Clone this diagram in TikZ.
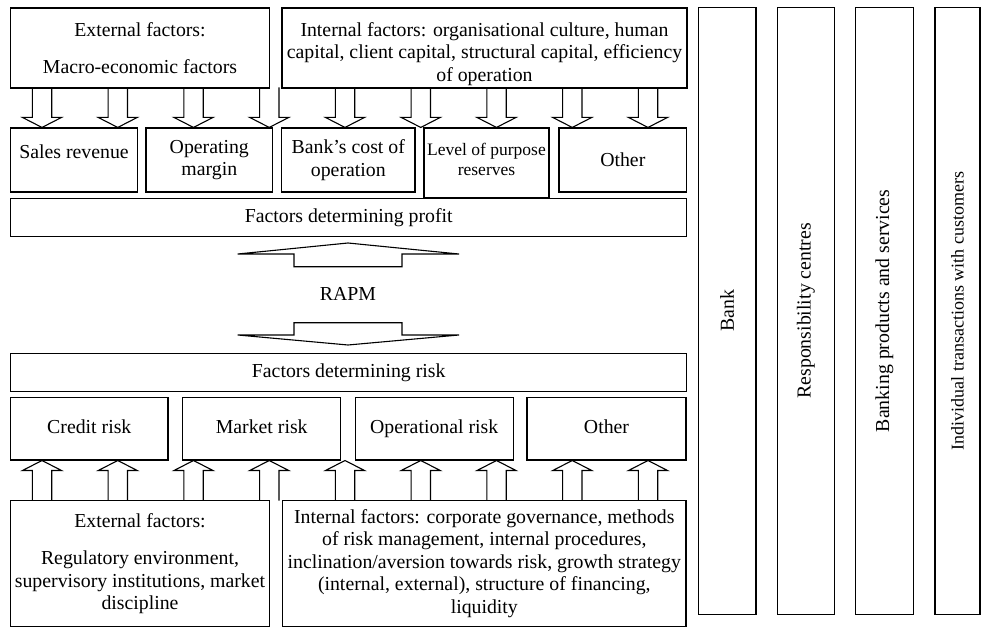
\documentclass[tikz,border=0pt]{standalone}
\usepackage{fontspec}
\setmainfont{Liberation Serif}
\usetikzlibrary{calc}

\tikzset{
	dnarrow/.pic={\draw (-9.7,-40) -- (-9.7,-10) -- (-19.5,-10) -- (0,0) -- (19.5,-10) -- (9.7,-10) -- (9.7,-40);},
	uparrow/.pic={\draw (-9.7,40) -- (-9.7,10) -- (-19.5,10) -- (0,0) -- (19.5,10) -- (9.7,10) -- (9.7,40);}
}

\begin{document}
\begin{tikzpicture}[x=1pt, y=-1pt, line width=1.1pt]
		\tikzstyle{box} = [draw=black, rectangle, inner sep=0pt, align=center, font=\fontsize{19.8}{22.5}\selectfont]
		\tikzstyle{riskbox} = [box, minimum height=62.3, text height=14pt, text depth=5pt]
		\tikzstyle{bar} = [box, rotate=90, minimum width=606.5, minimum height=57.5]
		\tikzstyle{invis} = [draw=none, font=\fontsize{19.8}{22.5}\selectfont]
		
		\useasboundingbox (0,0) rectangle (981,628);
		
		% profit side
		\node[box, minimum width=258.6, minimum height=80] 	at (140, 48) 		(extp) 	{External factors:\\[14pt]Macro-economic factors};
		\node[box, minimum width=405, minimum height=80] 	at (484.5, 48) 		(intp) 	{\rule{0pt}{25.5pt}Internal factors: organisational culture, human\\capital, client capital, structural capital, efficiency\\of operation};
		\node[box, minimum width=126.3, minimum height=64] 	at (74, 160) 		(sales) {Sales revenue\rule[-16pt]{0pt}{1pt}};
		\node[box, minimum width=126.7, minimum height=64] 	at (209.3, 160) 	(margin) {Operating\\margin};
		\node[box, minimum width=133.3, minimum height=64] 	at (348.3, 160) 	(cost) 	{Bank's cost of\\operation};
		\node[box, minimum width=125, minimum height=70, font=\fontsize{17.5}{20}\selectfont] 	at (486.5, 163) 	(resv) 	{Level of purpose\\reserves\rule[-8pt]{0pt}{1pt}};
		\node[box, minimum width=127.7, minimum height=64] 	at (622.8, 160) 	(othp) 	{Other};
		\node[box, minimum width=676, minimum height=37.7] 	at (348.7, 217.2) 	(profit) {Factors determining profit};
		
		\foreach \x in {42, 117.75, 193.5, 269.25, 345, 420.75, 496.5, 572.25, 648}
			\pic at (\x, 0 |- sales.north) {dnarrow};
		
		% RAPM
		\node[invis] 	at (348, 294) 	(rapm) 	{RAPM};
		\draw (294,266.7) -- (294,254) -- (237.7,254) -- (348,243) -- (459,254) -- (402,254) -- (402,266.7) -- cycle;
		\draw (294,322.7) -- (294,335) -- (237.7,335) -- (348,345) -- (459,335) -- (402,335) -- (402,322.7) -- cycle;
		
		% risk side
		\node[box, minimum width=676, minimum height=38] 	at (348.7, 372.7) 	(risk) 	{Factors determining risk};
		\node[riskbox, minimum width=157.3] 	at (89.3, 428.8) 	(credit) {Credit risk};
		\node[riskbox, minimum width=158] 	at (261.7, 428.8) 	(market) {Market risk};
		\node[riskbox, minimum width=158.3] 	at (434.2, 428.8) 	(oper) 	{Operational risk};
		\node[riskbox, minimum width=159] 	at (606.5, 428.8) 	(othr) 	{Other};
		\node[box, minimum width=258.6, minimum height=125.8] 	at (140, 563.6) 	(extr) 	{External factors:\\[15pt]Regulatory environment,\\supervisory institutions, market\\discipline};
		\node[box, minimum width=403.3, minimum height=125.8] 	at (484.3, 563.6) 	(intr) 	{Internal factors: corporate governance, methods\\of risk management, internal procedures,\\inclination/aversion towards risk, growth strategy\\(internal, external), structure of financing,\\liquidity};
		
		\foreach \x in {42, 117.75, 193.5, 269.25, 345, 420.75, 496.5, 572.25, 648}
			\pic at (\x, 0 |- credit.south) {uparrow};
		
		% levels
		\node[bar] 	at (727.2, 310.8) 	(bank) 	{Bank};
		\node[bar] 	at (806, 310.8) 	(resp) 	{Responsibility centres};
		\node[bar] 	at (884.5, 310.8) 	(prod) 	{Banking products and services};
		\node[bar, minimum height=45, font=\fontsize{18}{21}\selectfont] 	at (957.5, 310.8) 	(trans) 	{Individual transactions with customers};
\end{tikzpicture}
\end{document}
